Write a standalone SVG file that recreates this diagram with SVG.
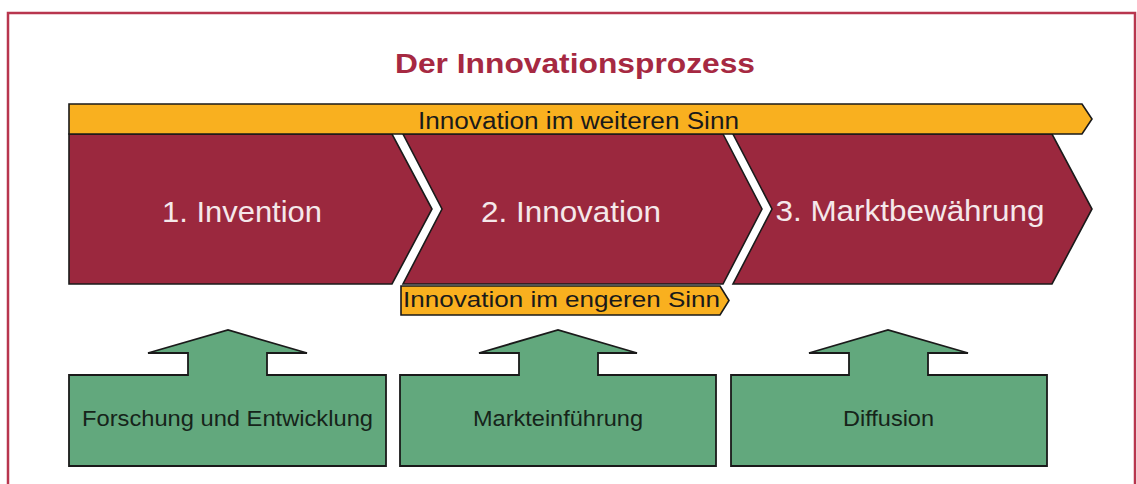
<svg xmlns="http://www.w3.org/2000/svg" width="1137" height="484" viewBox="0 0 1137 484">
<style>
.frame{fill:#ffffff;stroke:#b8364e;stroke-width:2.5}
.title{font-family:"Liberation Sans",Arial,sans-serif;font-weight:bold;font-size:28px;fill:#a62942}
.chev{fill:#9b283e;stroke:#1a1a1a;stroke-width:1.6;stroke-linejoin:miter}
.chevtxt{font-family:"Liberation Sans",Arial,sans-serif;font-size:30px;fill:#f5e8ea}
.bar{fill:#f9b01f;stroke:#1a1a1a;stroke-width:1.6}
.bartxt{font-family:"Liberation Sans",Arial,sans-serif;fill:#1a1a1a}
.green{fill:#62a87d;stroke:#1a1a1a;stroke-width:1.8;stroke-linejoin:miter}
.greentxt{font-family:"Liberation Sans",Arial,sans-serif;font-size:22px;fill:#16241a}
</style>
<rect class="frame" x="8" y="13" width="1127" height="490"/>
<text class="title" x="575" y="73" text-anchor="middle" textLength="360" lengthAdjust="spacingAndGlyphs">Der Innovationsprozess</text>

<g id="phase1">
<path class="chev" d="M69,134 L392,134 L432,209 L392,284 L69,284 Z"/>
<text class="chevtxt" x="242" y="222" text-anchor="middle" textLength="160" lengthAdjust="spacingAndGlyphs">1. Invention</text>
</g>
<g id="phase2">
<path class="chev" d="M403,134 L723,134 L762,209 L723,284 L403,284 L442,209 Z"/>
<text class="chevtxt" x="571" y="222" text-anchor="middle" textLength="180" lengthAdjust="spacingAndGlyphs">2. Innovation</text>
</g>
<g id="phase3">
<path class="chev" d="M733,134 L1052,134 L1092,209 L1052,284 L733,284 L772,209 Z"/>
<text class="chevtxt" x="910" y="221" text-anchor="middle" textLength="269" lengthAdjust="spacingAndGlyphs">3. Marktbewährung</text>
</g>

<g id="bar-weiter">
<path class="bar" d="M69,104 L1082,104 L1092,119 L1082,134 L69,134 Z"/>
<text class="bartxt" x="578.5" y="129" font-size="23.5" text-anchor="middle" textLength="321" lengthAdjust="spacingAndGlyphs">Innovation im weiteren Sinn</text>
</g>
<g id="bar-enger">
<path class="bar" d="M401,286 L720,286 L729,300.5 L720,315 L401,315 Z"/>
<text class="bartxt" x="561.5" y="307" font-size="21.5" text-anchor="middle" textLength="317" lengthAdjust="spacingAndGlyphs">Innovation im engeren Sinn</text>
</g>

<g id="fue">
<path class="green" d="M69,375 L188,375 L188,353 L148,353 L228,330 L307,353 L267,353 L267,375 L386,375 L386,466 L69,466 Z"/>
<text class="greentxt" x="227.5" y="426" text-anchor="middle" textLength="291" lengthAdjust="spacingAndGlyphs">Forschung und Entwicklung</text>
</g>
<g id="markteinfuehrung">
<path class="green" d="M400,375 L519,375 L519,353 L479,353 L558,330 L637,353 L598,353 L598,375 L716,375 L716,466 L400,466 Z"/>
<text class="greentxt" x="558" y="426" text-anchor="middle" textLength="170" lengthAdjust="spacingAndGlyphs">Markteinführung</text>
</g>
<g id="diffusion">
<path class="green" d="M731,375 L849,375 L849,353 L809,353 L888,330 L968,353 L928,353 L928,375 L1047,375 L1047,466 L731,466 Z"/>
<text class="greentxt" x="888.5" y="426" text-anchor="middle" textLength="91" lengthAdjust="spacingAndGlyphs">Diffusion</text>
</g>
<g id="connectors"/>
</svg>
